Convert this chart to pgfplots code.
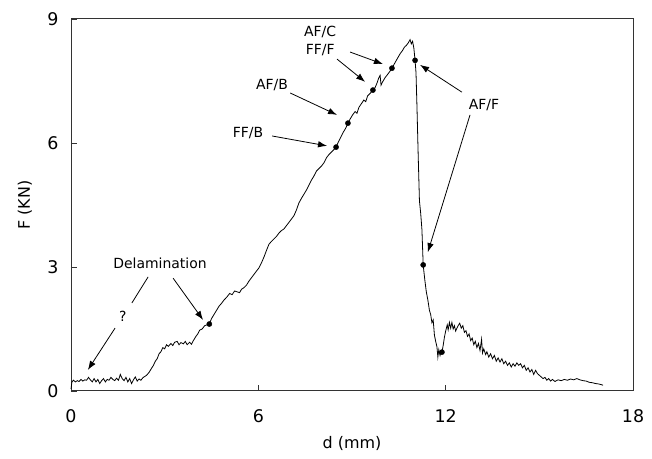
\documentclass[border=0pt]{standalone}
\usepackage{fontspec}
\setmainfont{DejaVu Sans}
\usepackage{pgfplots}
\pgfplotsset{compat=1.18}
\usetikzlibrary{arrows.meta}

\pgfplotstableread{
x y
0 0.05
0.03 0.22
0.08 0.26
0.14 0.22
0.20 0.25
0.26 0.23
0.32 0.28
0.38 0.24
0.44 0.27
0.50 0.26
0.56 0.33
0.62 0.27
0.68 0.22
0.74 0.30
0.80 0.22
0.86 0.28
0.92 0.18
0.98 0.25
1.04 0.30
1.10 0.22
1.16 0.28
1.22 0.26
1.28 0.33
1.34 0.28
1.40 0.25
1.46 0.31
1.52 0.26
1.58 0.40
1.64 0.30
1.70 0.25
1.76 0.33
1.82 0.22
1.88 0.30
1.94 0.18
2.00 0.27
2.06 0.34
2.12 0.24
2.18 0.29
2.24 0.26
2.30 0.32
2.36 0.35
2.42 0.38
2.50 0.45
2.58 0.55
2.64 0.62
2.70 0.72
2.76 0.78
2.82 0.90
2.88 0.95
2.94 1.05
3.00 1.02
3.06 1.12
3.12 1.08
3.20 1.15
3.26 1.10
3.32 1.18
3.40 1.20
3.46 1.12
3.52 1.17
3.60 1.14
3.66 1.20
3.72 1.12
3.80 1.18
3.86 1.13
3.92 1.22
4.00 1.32
4.06 1.38
4.12 1.47
4.20 1.50
4.28 1.58
4.36 1.60
4.43 1.62
4.50 1.75
4.58 1.85
4.66 1.95
4.74 2.05
4.82 2.12
4.90 2.20
5.00 2.28
5.08 2.36
5.16 2.33
5.24 2.42
5.32 2.40
5.40 2.38
5.46 2.46
5.54 2.50
5.62 2.56
5.70 2.66
5.78 2.74
5.86 2.82
5.94 2.90
6.02 2.98
6.10 3.10
6.18 3.24
6.26 3.40
6.34 3.55
6.42 3.62
6.50 3.68
6.58 3.74
6.66 3.82
6.74 3.88
6.82 3.92
6.90 4.00
6.98 4.08
7.06 4.16
7.14 4.24
7.22 4.38
7.30 4.55
7.38 4.66
7.46 4.76
7.54 4.86
7.62 4.98
7.70 5.10
7.78 5.20
7.86 5.32
7.94 5.38
8.02 5.44
8.10 5.52
8.18 5.64
8.26 5.72
8.34 5.78
8.42 5.84
8.49 5.90
8.56 6.02
8.64 6.14
8.72 6.26
8.80 6.36
8.87 6.48
8.94 6.58
9.02 6.68
9.10 6.76
9.16 6.72
9.22 6.86
9.30 6.95
9.38 7.04
9.44 7.00
9.50 7.14
9.58 7.20
9.67 7.28
9.74 7.34
9.80 7.45
9.86 7.58
9.90 7.64
9.93 7.40
9.98 7.48
10.06 7.58
10.14 7.66
10.22 7.74
10.28 7.81
10.36 7.92
10.42 8.00
10.48 8.08
10.55 8.17
10.62 8.24
10.68 8.32
10.74 8.36
10.80 8.42
10.86 8.50
10.90 8.40
10.94 8.46
10.98 8.30
11.02 8.00
11.05 7.70
11.08 6.90
11.12 5.70
11.16 4.60
11.20 4.30
11.24 3.90
11.28 3.05
11.33 2.70
11.38 2.40
11.43 2.20
11.48 1.95
11.52 1.85
11.56 1.65
11.60 1.72
11.64 1.35
11.68 1.20
11.72 1.07
11.75 0.82
11.78 1.00
11.82 0.86
11.85 0.95
11.88 0.94
11.92 1.10
11.96 1.30
12.00 1.45
12.05 1.60
12.08 1.48
12.12 1.66
12.16 1.52
12.20 1.66
12.24 1.50
12.28 1.58
12.32 1.45
12.36 1.52
12.40 1.58
12.45 1.64
12.50 1.52
12.55 1.58
12.60 1.42
12.65 1.46
12.70 1.32
12.75 1.38
12.80 1.22
12.85 1.28
12.90 1.12
12.95 1.20
13.00 1.05
13.05 1.15
13.10 0.98
13.15 1.25
13.18 0.92
13.22 1.02
13.28 0.88
13.32 0.95
13.38 0.82
13.44 0.90
13.50 0.78
13.56 0.86
13.62 0.72
13.68 0.80
13.74 0.70
13.80 0.78
13.86 0.66
13.92 0.72
13.98 0.62
14.04 0.68
14.10 0.58
14.16 0.66
14.22 0.60
14.28 0.68
14.34 0.62
14.40 0.66
14.46 0.56
14.52 0.62
14.58 0.50
14.64 0.56
14.70 0.46
14.76 0.52
14.82 0.40
14.88 0.50
14.94 0.42
15.00 0.38
15.06 0.34
15.12 0.30
15.18 0.33
15.24 0.26
15.30 0.30
15.36 0.24
15.42 0.28
15.50 0.23
15.60 0.27
15.70 0.25
15.80 0.28
15.90 0.26
16.00 0.29
16.10 0.27
16.20 0.30
16.30 0.27
16.40 0.25
16.50 0.24
16.60 0.21
16.70 0.20
16.80 0.18
16.90 0.17
17.00 0.15
17.04 0.14
}\curve

\pgfplotstableread{
x y
4.43 1.62
8.49 5.90
8.87 6.48
9.67 7.28
10.28 7.81
11.02 8.00
11.28 3.05
11.88 0.94
}\points

\begin{document}
\begin{tikzpicture}
\begin{axis}[
  scale only axis,
  width=562bp, height=372bp,
  xmin=0, xmax=18, ymin=0, ymax=9,
  xtick={0,6,12,18}, ytick={0,3,6,9},
  tick align=inside, xtick pos=bottom, ytick pos=left,
  major tick length=6bp,
  axis line style={black!80, line width=1pt},
  every tick/.style={black!80, line width=0.8pt},
  tick label style={font=\fontsize{17.5}{20}\selectfont},
  /pgf/number format/assume math mode=true,
  yticklabel style={xshift=-9bp},
  xticklabel style={yshift=-15bp},
  xlabel={d (mm)}, ylabel={F (KN)},
  label style={font=\fontsize{16}{18}\selectfont},
  xlabel style={at={(axis description cs:0.5,-0.14)}, anchor=center},
  ylabel style={at={(axis description cs:-0.082,0.5)}, anchor=center},
  clip=false,
]
\addplot[black, line width=0.8pt] table {\curve};
\addplot[only marks, mark=*, mark size=2.6pt, black] table {\points};

\tikzset{ann/.style={font=\fontsize{14}{16}\selectfont},
         arr/.style={-{Latex[length=9bp,width=6.5bp]}, line width=0.8pt}}
\node[ann] at (axis cs:7.98,8.69) {AF/C};
\node[ann] at (axis cs:7.98,8.25) {FF/F};
\node[ann] at (axis cs:6.44,7.40) {AF/B};
\node[ann] at (axis cs:5.67,6.24) {FF/B};
\node[ann] at (axis cs:13.23,6.92) {AF/F};
\node[ann] at (axis cs:2.85,3.10) {Delamination};
\node[ann] at (axis cs:1.66,1.81) {?};

\draw[arr] (axis cs:6.44,6.17) -- (axis cs:8.20,5.93);
\draw[arr] (axis cs:7.02,7.21) -- (axis cs:8.52,6.68);
\draw[arr] (axis cs:8.52,8.03) -- (axis cs:9.42,7.48);
\draw[arr] (axis cs:8.94,8.20) -- (axis cs:9.99,7.91);
\draw[arr] (axis cs:12.52,7.23) -- (axis cs:11.18,7.89);
\draw[arr] (axis cs:12.78,6.68) -- (axis cs:11.43,3.36);
\draw[line width=0.8pt] (axis cs:2.47,2.76) -- (axis cs:1.95,2.13);
\draw[arr] (axis cs:1.41,1.52) -- (axis cs:0.54,0.51);
\draw[arr] (axis cs:3.27,2.73) -- (axis cs:4.23,1.72);
\end{axis}
\pgfresetboundingbox
\path ([shift={(-71bp,-68bp)}]current axis.south west) rectangle ([shift={(19bp,19bp)}]current axis.north east);
\end{tikzpicture}
\end{document}
